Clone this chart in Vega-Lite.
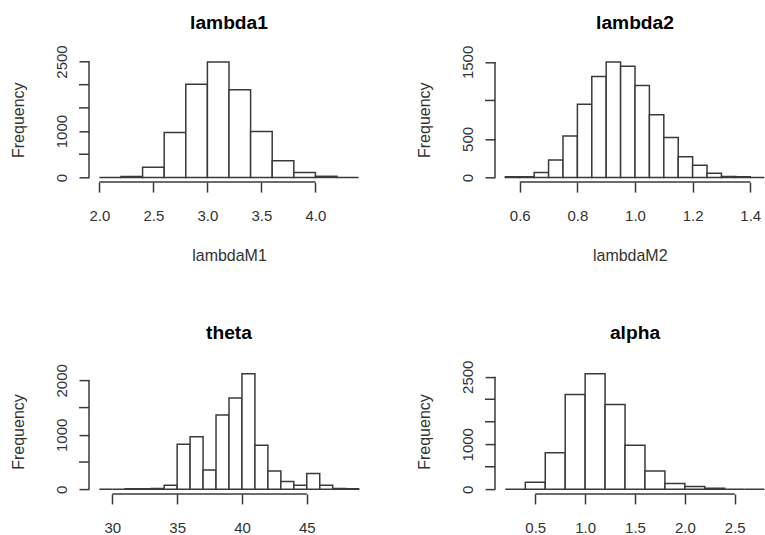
{
  "$schema": "https://vega.github.io/schema/vega-lite/v6.json",
  "background": "white",
  "padding": {"left": 10, "top": 13.3, "right": 0, "bottom": 0},
  "columns": 2,
  "spacing": {"row": 186.8, "column": 126},
  "bounds": "flush",
  "align": "each",
  "datasets": {
    "bins": [
      {"panel": "lambda1", "x0": 2.0, "x1": 2.2, "count": 0},
      {"panel": "lambda1", "x0": 2.2, "x1": 2.4, "count": 20},
      {"panel": "lambda1", "x0": 2.4, "x1": 2.6, "count": 220},
      {"panel": "lambda1", "x0": 2.6, "x1": 2.8, "count": 970},
      {"panel": "lambda1", "x0": 2.8, "x1": 3.0, "count": 2010},
      {"panel": "lambda1", "x0": 3.0, "x1": 3.2, "count": 2490},
      {"panel": "lambda1", "x0": 3.2, "x1": 3.4, "count": 1890},
      {"panel": "lambda1", "x0": 3.4, "x1": 3.6, "count": 990},
      {"panel": "lambda1", "x0": 3.6, "x1": 3.8, "count": 360},
      {"panel": "lambda1", "x0": 3.8, "x1": 4.0, "count": 108},
      {"panel": "lambda1", "x0": 4.0, "x1": 4.2, "count": 25},
      {"panel": "lambda1", "x0": 4.2, "x1": 4.4, "count": 0},

      {"panel": "lambda2", "x0": 0.55, "x1": 0.60, "count": 10},
      {"panel": "lambda2", "x0": 0.60, "x1": 0.65, "count": 10},
      {"panel": "lambda2", "x0": 0.65, "x1": 0.70, "count": 65},
      {"panel": "lambda2", "x0": 0.70, "x1": 0.75, "count": 228},
      {"panel": "lambda2", "x0": 0.75, "x1": 0.80, "count": 540},
      {"panel": "lambda2", "x0": 0.80, "x1": 0.85, "count": 950},
      {"panel": "lambda2", "x0": 0.85, "x1": 0.90, "count": 1310},
      {"panel": "lambda2", "x0": 0.90, "x1": 0.95, "count": 1500},
      {"panel": "lambda2", "x0": 0.95, "x1": 1.00, "count": 1445},
      {"panel": "lambda2", "x0": 1.00, "x1": 1.05, "count": 1195},
      {"panel": "lambda2", "x0": 1.05, "x1": 1.10, "count": 815},
      {"panel": "lambda2", "x0": 1.10, "x1": 1.15, "count": 520},
      {"panel": "lambda2", "x0": 1.15, "x1": 1.20, "count": 270},
      {"panel": "lambda2", "x0": 1.20, "x1": 1.25, "count": 160},
      {"panel": "lambda2", "x0": 1.25, "x1": 1.30, "count": 56},
      {"panel": "lambda2", "x0": 1.30, "x1": 1.35, "count": 12},
      {"panel": "lambda2", "x0": 1.35, "x1": 1.40, "count": 10},
      {"panel": "lambda2", "x0": 1.40, "x1": 1.45, "count": 0},

      {"panel": "theta", "x0": 29, "x1": 30, "count": 0},
      {"panel": "theta", "x0": 30, "x1": 31, "count": 0},
      {"panel": "theta", "x0": 31, "x1": 32, "count": 10},
      {"panel": "theta", "x0": 32, "x1": 33, "count": 10},
      {"panel": "theta", "x0": 33, "x1": 34, "count": 12},
      {"panel": "theta", "x0": 34, "x1": 35, "count": 75},
      {"panel": "theta", "x0": 35, "x1": 36, "count": 826},
      {"panel": "theta", "x0": 36, "x1": 37, "count": 966},
      {"panel": "theta", "x0": 37, "x1": 38, "count": 354},
      {"panel": "theta", "x0": 38, "x1": 39, "count": 1364},
      {"panel": "theta", "x0": 39, "x1": 40, "count": 1676},
      {"panel": "theta", "x0": 40, "x1": 41, "count": 2122},
      {"panel": "theta", "x0": 41, "x1": 42, "count": 807},
      {"panel": "theta", "x0": 42, "x1": 43, "count": 336},
      {"panel": "theta", "x0": 43, "x1": 44, "count": 141},
      {"panel": "theta", "x0": 44, "x1": 45, "count": 73},
      {"panel": "theta", "x0": 45, "x1": 46, "count": 288},
      {"panel": "theta", "x0": 46, "x1": 47, "count": 73},
      {"panel": "theta", "x0": 47, "x1": 48, "count": 15},
      {"panel": "theta", "x0": 48, "x1": 49, "count": 10},

      {"panel": "alpha", "x0": 0.2, "x1": 0.4, "count": 0},
      {"panel": "alpha", "x0": 0.4, "x1": 0.6, "count": 155},
      {"panel": "alpha", "x0": 0.6, "x1": 0.8, "count": 814},
      {"panel": "alpha", "x0": 0.8, "x1": 1.0, "count": 2108},
      {"panel": "alpha", "x0": 1.0, "x1": 1.2, "count": 2567},
      {"panel": "alpha", "x0": 1.2, "x1": 1.4, "count": 1886},
      {"panel": "alpha", "x0": 1.4, "x1": 1.6, "count": 976},
      {"panel": "alpha", "x0": 1.6, "x1": 1.8, "count": 406},
      {"panel": "alpha", "x0": 1.8, "x1": 2.0, "count": 126},
      {"panel": "alpha", "x0": 2.0, "x1": 2.2, "count": 60},
      {"panel": "alpha", "x0": 2.2, "x1": 2.4, "count": 25},
      {"panel": "alpha", "x0": 2.4, "x1": 2.6, "count": 0},
      {"panel": "alpha", "x0": 2.6, "x1": 2.8, "count": 0}
    ]
  },
  "config": {
    "view": {"stroke": null},
    "font": "Liberation Sans",
    "axis": {
      "labelFont": "Liberation Sans",
      "labelFontSize": 15,
      "labelColor": "#333333",
      "titleFont": "Liberation Sans",
      "titleFontSize": 16,
      "titleFontWeight": "normal",
      "titleColor": "#333333",
      "domain": false,
      "grid": false,
      "ticks": true,
      "tickSize": 10,
      "tickColor": "#3a3a3a",
      "tickWidth": 1.5,
      "labelOverlap": false,
      "labelBound": false,
      "labelFlush": false
    },
    "axisX": {
      "labelBaseline": "alphabetic",
      "labelPadding": 28.8,
      "titleBaseline": "alphabetic",
      "titleY": 78.8
    },
    "axisY": {
      "labelAngle": -90,
      "labelAlign": "center",
      "labelBaseline": "alphabetic",
      "labelPadding": 12.5,
      "titleBaseline": "alphabetic",
      "titleX": -65.3,
      "titleAngle": -90
    },
    "title": {
      "font": "Liberation Sans",
      "fontSize": 19.2,
      "fontWeight": "bold",
      "color": "#000000",
      "anchor": "middle",
      "frame": "group",
      "baseline": "alphabetic"
    }
  },
  "concat": [
    {
      "width": 280,
      "height": 124.8,
      "title": {"text": "lambda1", "offset": 11.5},
      "layer": [
        {
          "data": {"name": "bins"},
          "transform": [{"filter": "datum.panel === 'lambda1'"}],
          "mark": {"type": "rect", "fill": "white", "stroke": "#3a3a3a", "strokeWidth": 1.5},
          "encoding": {
            "x": {"field": "x0", "type": "quantitative",
              "scale": {"domain": [1.904, 4.496], "nice": false, "zero": false},
              "axis": {"values": [2.0, 2.5, 3.0, 3.5, 4.0], "format": ".1f", "title": "lambdaM1"}},
            "x2": {"field": "x1"},
            "y": {"field": "count", "type": "quantitative",
              "scale": {"domain": [-100, 2590], "nice": false, "zero": false},
              "axis": {"values": [0, 1000, 2500], "format": "d", "title": "Frequency"}},
            "y2": {"datum": 0}
          }
        },
        {
          "data": {"values": [{"tick": 500}, {"tick": 1500}, {"tick": 2000}]},
          "mark": {"type": "rule", "stroke": "#3a3a3a", "strokeWidth": 1.5, "x2Offset": -10},
          "encoding": {"x": {"datum": 1.904}, "x2": {"datum": 1.904}, "y": {"field": "tick", "type": "quantitative"}}
        },
        {
          "data": {"values": [{}]},
          "mark": {"type": "rule", "stroke": "#3a3a3a", "strokeWidth": 1.5},
          "encoding": {"x": {"datum": 2.0}, "x2": {"datum": 4.0}, "y": {"datum": -100}}
        },
        {
          "data": {"values": [{}]},
          "mark": {"type": "rule", "stroke": "#3a3a3a", "strokeWidth": 1.5},
          "encoding": {"x": {"datum": 1.904}, "y": {"datum": 0}, "y2": {"datum": 2500}}
        }
      ]
    },
    {
      "width": 269.5,
      "height": 124.8,
      "title": {"text": "lambda2", "dx": 5.25, "offset": 11.9},
      "layer": [
        {
          "data": {"name": "bins"},
          "transform": [{"filter": "datum.panel === 'lambda2'"}],
          "mark": {"type": "rect", "fill": "white", "stroke": "#3a3a3a", "strokeWidth": 1.5, "clip": true},
          "encoding": {
            "x": {"field": "x0", "type": "quantitative",
              "scale": {"domain": [0.514, 1.4495], "nice": false, "zero": false},
              "axis": {"values": [0.6, 0.8, 1.0, 1.2, 1.4], "format": ".1f", "title": "lambdaM2"}},
            "x2": {"field": "x1"},
            "y": {"field": "count", "type": "quantitative",
              "scale": {"domain": [-60, 1560], "nice": false, "zero": false},
              "axis": {"values": [0, 500, 1500], "format": "d", "title": "Frequency"}},
            "y2": {"datum": 0}
          }
        },
        {
          "data": {"values": [{"tick": 1000}]},
          "mark": {"type": "rule", "stroke": "#3a3a3a", "strokeWidth": 1.5, "x2Offset": -10},
          "encoding": {"x": {"datum": 0.514}, "x2": {"datum": 0.514}, "y": {"field": "tick", "type": "quantitative"}}
        },
        {
          "data": {"values": [{}]},
          "mark": {"type": "rule", "stroke": "#3a3a3a", "strokeWidth": 1.5},
          "encoding": {"x": {"datum": 0.6}, "x2": {"datum": 1.4}, "y": {"datum": -60}}
        },
        {
          "data": {"values": [{}]},
          "mark": {"type": "rule", "stroke": "#3a3a3a", "strokeWidth": 1.5},
          "encoding": {"x": {"datum": 0.514}, "y": {"datum": 0}, "y2": {"datum": 1500}}
        }
      ]
    },
    {
      "width": 280,
      "height": 124.8,
      "title": {"text": "theta", "offset": 20.5},
      "layer": [
        {
          "data": {"name": "bins"},
          "transform": [{"filter": "datum.panel === 'theta'"}],
          "mark": {"type": "rect", "fill": "white", "stroke": "#3a3a3a", "strokeWidth": 1.5},
          "encoding": {
            "x": {"field": "x0", "type": "quantitative",
              "scale": {"domain": [28.2, 49.8], "nice": false, "zero": false},
              "axis": {"values": [30, 35, 40, 45], "format": "d", "title": null}},
            "x2": {"field": "x1"},
            "y": {"field": "count", "type": "quantitative",
              "scale": {"domain": [-85, 2207], "nice": false, "zero": false},
              "axis": {"values": [0, 1000, 2000], "format": "d", "title": "Frequency"}},
            "y2": {"datum": 0}
          }
        },
        {
          "data": {"values": [{"tick": 500}, {"tick": 1500}]},
          "mark": {"type": "rule", "stroke": "#3a3a3a", "strokeWidth": 1.5, "x2Offset": -10},
          "encoding": {"x": {"datum": 28.2}, "x2": {"datum": 28.2}, "y": {"field": "tick", "type": "quantitative"}}
        },
        {
          "data": {"values": [{}]},
          "mark": {"type": "rule", "stroke": "#3a3a3a", "strokeWidth": 1.5},
          "encoding": {"x": {"datum": 30}, "x2": {"datum": 45}, "y": {"datum": -85}}
        },
        {
          "data": {"values": [{}]},
          "mark": {"type": "rule", "stroke": "#3a3a3a", "strokeWidth": 1.5},
          "encoding": {"x": {"datum": 28.2}, "y": {"datum": 0}, "y2": {"datum": 2000}}
        }
      ]
    },
    {
      "width": 269.5,
      "height": 124.8,
      "title": {"text": "alpha", "dx": 5.25, "offset": 16.8},
      "layer": [
        {
          "data": {"name": "bins"},
          "transform": [{"filter": "datum.panel === 'alpha'"}],
          "mark": {"type": "rect", "fill": "white", "stroke": "#3a3a3a", "strokeWidth": 1.5, "clip": true},
          "encoding": {
            "x": {"field": "x0", "type": "quantitative",
              "scale": {"domain": [0.096, 2.7986], "nice": false, "zero": false},
              "axis": {"values": [0.5, 1.0, 1.5, 2.0, 2.5], "format": ".1f", "title": null}},
            "x2": {"field": "x1"},
            "y": {"field": "count", "type": "quantitative",
              "scale": {"domain": [-103, 2670], "nice": false, "zero": false},
              "axis": {"values": [0, 1000, 2500], "format": "d", "title": "Frequency"}},
            "y2": {"datum": 0}
          }
        },
        {
          "data": {"values": [{"tick": 500}, {"tick": 1500}, {"tick": 2000}]},
          "mark": {"type": "rule", "stroke": "#3a3a3a", "strokeWidth": 1.5, "x2Offset": -10},
          "encoding": {"x": {"datum": 0.096}, "x2": {"datum": 0.096}, "y": {"field": "tick", "type": "quantitative"}}
        },
        {
          "data": {"values": [{}]},
          "mark": {"type": "rule", "stroke": "#3a3a3a", "strokeWidth": 1.5},
          "encoding": {"x": {"datum": 0.5}, "x2": {"datum": 2.5}, "y": {"datum": -103}}
        },
        {
          "data": {"values": [{}]},
          "mark": {"type": "rule", "stroke": "#3a3a3a", "strokeWidth": 1.5},
          "encoding": {"x": {"datum": 0.096}, "y": {"datum": 0}, "y2": {"datum": 2500}}
        }
      ]
    }
  ]
}
